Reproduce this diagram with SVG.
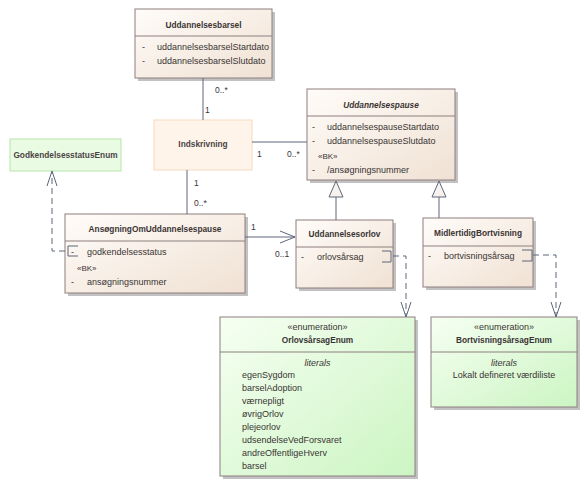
<svg xmlns="http://www.w3.org/2000/svg" width="587" height="487" viewBox="0 0 587 487">
<style>
text{font-family:"Liberation Sans",Arial,sans-serif;font-size:9px;fill:#3a3434}
.t{font-weight:bold;font-size:8.3px;text-anchor:middle}
.c{text-anchor:middle}
.i{font-style:italic}
.s{font-size:8px}
.box{fill:url(#gc);stroke:#8e7e7e;stroke-width:1}
.ebox{fill:url(#ge);stroke:#8e7e7e;stroke-width:1}
.sh{fill:#c2c2c2}
.div{stroke:#8e7e7e;stroke-width:1}
.ln{fill:none;stroke:#5c667a;stroke-width:1}
.dash{fill:none;stroke:#5c667a;stroke-width:1;stroke-dasharray:6,4}
.tri{fill:#f8f2ee;stroke:#5c667a;stroke-width:1}
.lbl{font-size:8.5px}
</style>
<defs>
<linearGradient id="gc" x1="0" y1="0" x2="1" y2="1">
<stop offset="0" stop-color="#fffcf9"/>
<stop offset="1" stop-color="#f0e1d3"/>
</linearGradient>
<linearGradient id="ge" x1="0" y1="0" x2="1" y2="1">
<stop offset="0" stop-color="#f6fff2"/>
<stop offset="1" stop-color="#ccf5c3"/>
</linearGradient>
</defs>
<rect width="587" height="487" fill="#ffffff"/>

<g id="Uddannelsesbarsel">
<rect class="sh" x="138" y="12" width="137" height="69"/>
<rect class="box" x="135" y="9" width="137" height="69"/>
<line class="div" x1="135" y1="36" x2="272" y2="36"/>
<text class="t" x="203.5" y="28">Uddannelsesbarsel</text>
<text x="142" y="50">-</text><text x="157" y="50">uddannelsesbarselStartdato</text>
<text x="142" y="64">-</text><text x="157" y="64">uddannelsesbarselSlutdato</text>
</g>

<g id="Indskrivning">
<rect x="154" y="120" width="98" height="50" fill="#fef4ea" stroke="#f5d9bd" stroke-width="1"/>
<text class="t" x="203" y="147" style="fill:#4a4444">Indskrivning</text>
</g>

<g id="Uddannelsespause">
<rect class="sh" x="310" y="92" width="148" height="91"/>
<rect class="box" x="307" y="89" width="148" height="91"/>
<line class="div" x1="307" y1="116" x2="455" y2="116"/>
<text class="t i" x="381" y="108">Uddannelsespause</text>
<text x="312" y="130">-</text><text x="327" y="130">uddannelsespauseStartdato</text>
<text x="312" y="144">-</text><text x="327" y="144">uddannelsespauseSlutdato</text>
<text class="s" x="318" y="159">«BK»</text>
<text x="312" y="173">-</text><text x="327" y="173">/ansøgningsnummer</text>
</g>

<g id="GodkendelsesstatusEnum">
<rect x="10" y="139" width="111" height="32" fill="#eafbe4" stroke="#b6e6a8" stroke-width="1"/>
<text class="t" x="65.5" y="158" style="fill:#4a4444">GodkendelsesstatusEnum</text>
</g>

<g id="AnsoegningOmUddannelsespause">
<rect class="sh" x="68" y="217" width="180" height="79"/>
<rect class="box" x="65" y="214" width="180" height="79"/>
<line class="div" x1="65" y1="241" x2="245" y2="241"/>
<text class="t" x="155" y="232">AnsøgningOmUddannelsespause</text>
<text x="71" y="255">-</text><text x="87" y="255">godkendelsesstatus</text>
<text class="s" x="77" y="271">«BK»</text>
<text x="71" y="285">-</text><text x="87" y="285">ansøgningsnummer</text>
</g>

<g id="Uddannelsesorlov">
<rect class="sh" x="299" y="223" width="97" height="68"/>
<rect class="box" x="296" y="220" width="97" height="68"/>
<line class="div" x1="296" y1="247" x2="393" y2="247"/>
<text class="t" x="344.5" y="237">Uddannelsesorlov</text>
<text x="301" y="260">-</text><text x="317" y="260">orlovsårsag</text>
</g>

<g id="MidlertidigBortvisning">
<rect class="sh" x="426" y="221" width="110" height="69"/>
<rect class="box" x="423" y="218" width="110" height="69"/>
<line class="div" x1="423" y1="246" x2="533" y2="246"/>
<text class="t" x="478" y="236">MidlertidigBortvisning</text>
<text x="428" y="259">-</text><text x="444" y="259">bortvisningsårsag</text>
</g>

<g id="OrlovsaarsagEnum">
<rect class="sh" x="223" y="320" width="195" height="159"/>
<rect class="ebox" x="220" y="317" width="195" height="159"/>
<line class="div" x1="220" y1="352" x2="415" y2="352"/>
<text class="c" x="317.5" y="330">«enumeration»</text>
<text class="t" x="317.5" y="343">OrlovsårsagEnum</text>
<text class="c i" x="317.5" y="366">literals</text>
<text x="242" y="378">egenSygdom</text>
<text x="242" y="391">barselAdoption</text>
<text x="242" y="404">værnepligt</text>
<text x="242" y="417">øvrigOrlov</text>
<text x="242" y="430">plejeorlov</text>
<text x="242" y="443">udsendelseVedForsvaret</text>
<text x="242" y="456">andreOffentligeHverv</text>
<text x="242" y="469">barsel</text>
</g>

<g id="BortvisningsaarsagEnum">
<rect class="sh" x="434" y="320" width="146" height="90"/>
<rect class="ebox" x="431" y="317" width="146" height="90"/>
<line class="div" x1="431" y1="352" x2="577" y2="352"/>
<text class="c" x="504" y="330">«enumeration»</text>
<text class="t" x="504" y="343">BortvisningsårsagEnum</text>
<text class="c i" x="504" y="366">literals</text>
<text class="c" x="504" y="378">Lokalt defineret værdiliste</text>
</g>

<g id="connectors">
<path class="ln" d="M203,78 V120"/>
<text class="lbl" x="215" y="93">0..*</text>
<text class="lbl" x="205" y="113">1</text>
<path class="ln" d="M252,142 H307"/>
<text class="lbl" x="257" y="157">1</text>
<text class="lbl" x="287" y="157">0..*</text>
<path class="ln" d="M187,170 V214"/>
<text class="lbl" x="194" y="186">1</text>
<text class="lbl" x="194" y="206">0..*</text>
<path class="ln" d="M245,237 H295"/>
<path class="ln" d="M280,231 L295,237 L280,243"/>
<text class="lbl" x="251" y="230">1</text>
<text class="lbl" x="275" y="257">0..1</text>
<path class="ln" d="M336,220 V197"/>
<path class="tri" d="M336,181 L329,197 L343,197 Z"/>
<path class="ln" d="M439,218 V197"/>
<path class="tri" d="M439,181 L432,197 L446,197 Z"/>
<path class="ln" d="M78,246 H68 V256 H78"/>
<path class="dash" d="M65,251 H52 V172"/>
<path class="ln" d="M47,186 L52,171 L57,186"/>
<path class="ln" d="M382,251 H391 V262 H382"/>
<path class="dash" d="M393,256 H406 V316"/>
<path class="ln" d="M401,302 L406,317 L411,302"/>
<path class="ln" d="M522,250 H532 V261 H522"/>
<path class="dash" d="M533,255 H556 V316"/>
<path class="ln" d="M551,302 L556,317 L561,302"/>
</g>
</svg>
